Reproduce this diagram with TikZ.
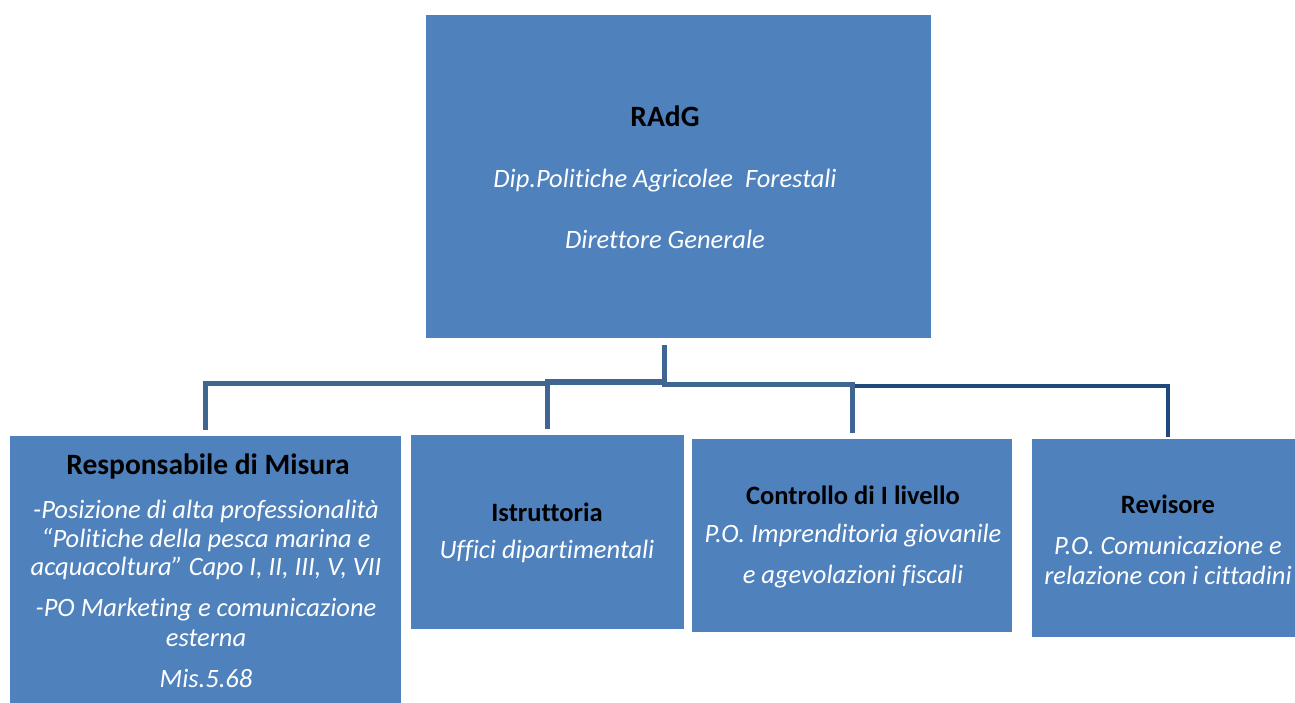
\documentclass[tikz,border=0pt]{standalone}
\usepackage{fontspec}
\setmainfont[Ligatures=CommonOff]{Carlito}
\definecolor{boxblue}{HTML}{4F81BD}
\definecolor{linkA}{HTML}{3F6593}
\definecolor{linkB}{HTML}{1F497D}
\begin{document}
\begin{tikzpicture}[x=1pt,y=-1pt,
  box/.style={fill=boxblue, draw=none, inner sep=0pt, outer sep=0pt, anchor=north west},
  ttl/.style={font=\fontsize{26.5}{28.5}\selectfont\bfseries, text=black, inner sep=0pt},
  bigttl/.style={font=\fontsize{29.5}{31}\selectfont\bfseries, text=black, inner sep=0pt},
  sub/.style={font=\fontsize{26.5}{28.5}\selectfont\itshape, text=white, inner sep=0pt},
  conn/.style={draw=linkA, line width=5pt, line cap=rect},
  connB/.style={draw=linkB, line width=3.8pt, line cap=rect}]
\useasboundingbox (0,0) rectangle (1295,702);
% boxes
\node[box, minimum width=505pt, minimum height=323pt] (top) at (426,15) {};
\node[box, minimum width=391pt, minimum height=272pt] (b1) at (10,436) {};
\node[box, minimum width=273pt, minimum height=194pt] (b2) at (411,435) {};
\node[box, minimum width=320pt, minimum height=193pt] (b3) at (692,439) {};
\node[box, minimum width=272pt, minimum height=198pt] (b4) at (1032,439) {};
% top texts
\node[bigttl] (t0) at (665,116) {RAdG};
\node[sub] (t1) at (665,181) {Dip.Politiche Agricolee\ \ Forestali};
\node[sub] (t2) at (665,239) {Direttore Generale};
% box 1
\node[bigttl] (r0) at (208,466) {Responsabile di Misura};
\node[sub] (r1) at (206,511) {-Posizione di alta professionalità};
\node[sub] (r2) at (206,540) {“Politiche della pesca marina e};
\node[sub] (r3) at (206,568) {acquacoltura” Capo I, II, III, V, VII};
\node[sub] (r4) at (206,610) {-PO Marketing e comunicazione};
\node[sub] (r5) at (206,638) {esterna};
\node[sub] (r6) at (206,678) {Mis.5.68};
% box 2
\node[ttl] (i0) at (547,512) {Istruttoria};
\node[sub] (i1) at (547,551) {Uffici dipartimentali};
% box 3
\node[ttl] (c0) at (853,495) {Controllo di I livello};
\node[sub] (c1) at (853,536) {P.O. Imprenditoria giovanile};
\node[sub] (c2) at (853,577) {e agevolazioni fiscali};
% box 4
\node[ttl] (v0) at (1168,504) {Revisore};
\node[sub] (v1) at (1168,545) {P.O. Comunicazione e};
\node[sub] (v2) at (1168,575) {relazione con i cittadini};
% connectors
\coordinate (j) at (664.5,382);
\coordinate (jb) at (547.7,382);
\coordinate (ja) at (205.5,383.5);
\coordinate (jc) at (852.5,384.7);
\coordinate (jd) at (1168,386);
\draw[conn, line cap=butt] ([yshift=-7pt]top.south -| j) -- (664.5,387);
\draw[conn, line width=6.5pt, line cap=butt] (j) -- (jb);
\draw[conn, line cap=butt] (547.7,379) -- ([yshift=6pt]b2.north -| jb);
\draw[conn, line cap=butt, line join=miter] (547.7,383.5) -- (ja) -- ([yshift=6pt]b1.north -| ja);
\draw[conn, line cap=butt, line join=miter] (662,384.7) -- (jc) -- ([yshift=6.5pt]b3.north -| jc);
\draw[connB, line cap=butt, line join=miter] (855,386) -- (jd) -- ([yshift=2pt]b4.north -| jd);
\end{tikzpicture}
\end{document}
